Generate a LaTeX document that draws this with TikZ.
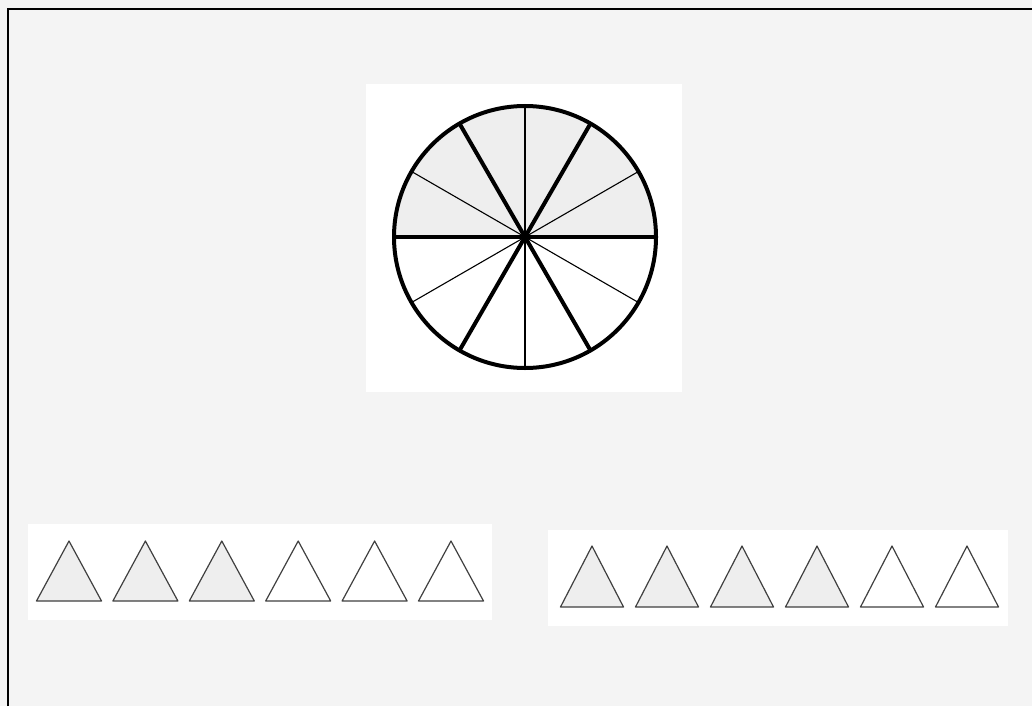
\documentclass[tikz,border=0pt]{standalone}
\usepackage{xcolor}
\usepackage{tikz}
\definecolor{paper}{HTML}{F4F4F4}
\definecolor{stipple}{HTML}{EEEEEE}
\tikzset{
  rim/.style={draw=black,line width=4pt},
  bold spoke/.style={draw=black,line width=4pt},
  thin spoke/.style={draw=black,line width=1.1pt},
  tri/.style={draw=black!75,line width=1.2pt,line join=round},
  blank/.style={fill=white,draw=none},
}
\begin{document}
\begin{tikzpicture}[x=1pt,y=-1pt]
  \useasboundingbox (0,0) rectangle (1032,706);
  \fill[paper] (0,0) rectangle (1032,706);
  \draw[line width=1.8pt] (8,706) -- (8,9) -- (1032,9);
  % white patches behind the figures
  \path[blank] (366,84) rectangle (682,392);
  \path[blank] (28,524) rectangle (492,620);
  \path[blank] (548,530) rectangle (1008,626);
  % wheel
  \coordinate (c) at (525,237);
  \fill[stipple] (c) ++(131,0) arc[start angle=0,end angle=-180,radius=131] -- cycle;
  \foreach \a in {30,90,150,210,270,330}
    \draw[thin spoke] (c) -- ++(\a:131);
  \foreach \a in {0,60,120,180,240,300}
    \draw[bold spoke] (c) -- ++(\a:131);
  \draw[rim] (c) circle[radius=131];
  % left row of triangles
  \foreach \i in {0,...,5}{
    \pgfmathsetmacro{\xa}{69+76.4*\i}
    \ifnum\i<3 \def\tfill{stipple}\else \def\tfill{white}\fi
    \draw[tri,fill=\tfill] (\xa,541) -- (\xa-32.5,601) -- (\xa+32.5,601) -- cycle;
  }
  % right row of triangles
  \foreach \i in {0,...,5}{
    \pgfmathsetmacro{\xb}{592+75*\i}
    \ifnum\i<4 \def\tfill{stipple}\else \def\tfill{white}\fi
    \draw[tri,fill=\tfill] (\xb,546) -- (\xb-31.5,607) -- (\xb+31.5,607) -- cycle;
  }
\end{tikzpicture}
\end{document}
